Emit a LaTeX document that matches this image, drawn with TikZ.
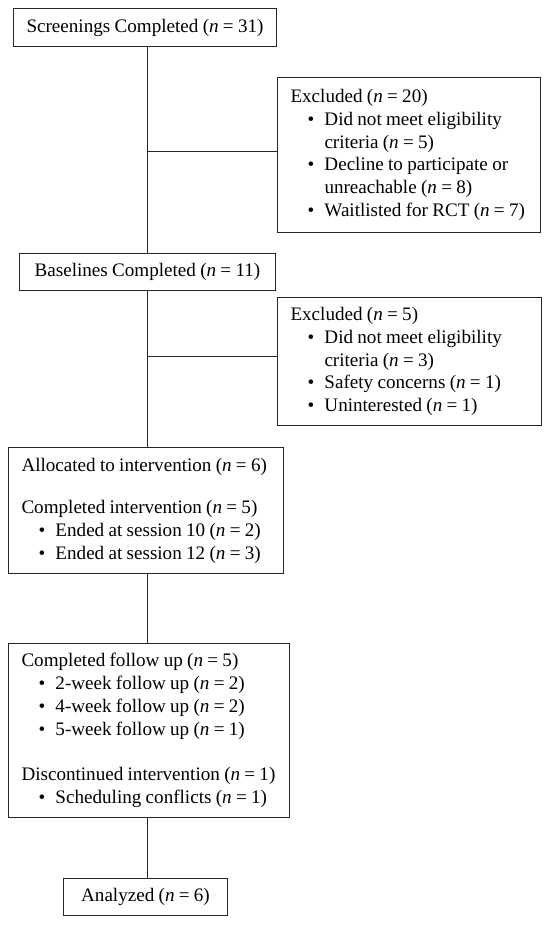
\documentclass[tikz,border=0pt]{standalone}
\usepackage{fontspec}
\setmainfont{Liberation Serif}[WordSpace=0.9]
\newcommand{\bl}{\hspace*{17pt}\makebox[17pt][l]{\textbullet}}
\newcommand{\cont}{\hspace*{34pt}}
\newcommand{\nn}{\textit{n}}
\newcommand{\ns}{\spaceskip=0pt\xspaceskip=0pt\relax}
\begin{document}
\begin{tikzpicture}[x=1pt,y=-1pt,
  base/.style={draw=black!85, line width=1pt, anchor=north west, inner sep=0pt,
    font=\fontsize{19.1}{22.7}\selectfont},
  cbox/.style={base, align=center},
  lbox/.style={base, align=left, inner xsep=13pt},
  link/.style={draw=black!85, line width=1pt}]
\useasboundingbox (0,0) rectangle (550,925);
\node[cbox, minimum width=263, minimum height=38] (scr) at (13,8) {Screenings Completed (\nn{} = 31)};
\node[lbox, text width=237, minimum height=155] (ex1) at (277,77) {\ns\mbox{Excluded (\nn{} = 20)}\\
\mbox{\bl Did not meet eligibility}\\
\mbox{\cont criteria (\nn{} = 5)}\\
\mbox{\bl Decline to participate or}\\
\mbox{\cont unreachable (\nn{} = 8)}\\
\mbox{\bl Waitlisted for RCT (\nn{} = 7)}};
\node[cbox, minimum width=256, minimum height=37] (bas) at (19,253) {Baselines Completed (\nn{} = 11)};
\node[lbox, text width=238, minimum height=128] (ex2) at (277,297) {\ns\mbox{Excluded (\nn{} = 5)}\\
\mbox{\bl Did not meet eligibility}\\
\mbox{\cont criteria (\nn{} = 3)}\\
\mbox{\bl Safety concerns (\nn{} = 1)}\\
\mbox{\bl Uninterested (\nn{} = 1)}};
\node[lbox, text width=249, minimum height=126] (alc) at (8,447) {\ns\mbox{Allocated to intervention (\nn{} = 6)}\\[20pt]
\mbox{Completed intervention (\nn{} = 5)}\\
\mbox{\bl Ended at session 10 (\nn{} = 2)}\\
\mbox{\bl Ended at session 12 (\nn{} = 3)}};
\node[lbox, text width=255, minimum height=174] (fu) at (8,643) {\ns\mbox{Completed follow up (\nn{} = 5)}\\
\mbox{\bl 2-week follow up (\nn{} = 2)}\\
\mbox{\bl 4-week follow up (\nn{} = 2)}\\
\mbox{\bl 5-week follow up (\nn{} = 1)}\\[23pt]
\mbox{Discontinued intervention (\nn{} = 1)}\\
\mbox{\bl Scheduling conflicts (\nn{} = 1)}};
\node[cbox, minimum width=164, minimum height=37] (ana) at (63,878) {Analyzed (\nn{} = 6)};
\coordinate (sp) at (147,0);
\coordinate (j1) at (147,152);
\coordinate (j2) at (147,356);
\draw[link] (scr.south -| sp) -- (bas.north -| sp);
\draw[link] (j1) -- (j1 -| ex1.west);
\draw[link] (bas.south -| sp) -- (alc.north -| sp);
\draw[link] (j2) -- (j2 -| ex2.west);
\draw[link] (alc.south -| sp) -- (fu.north -| sp);
\draw[link] (fu.south -| sp) -- (ana.north -| sp);
\end{tikzpicture}
\end{document}
